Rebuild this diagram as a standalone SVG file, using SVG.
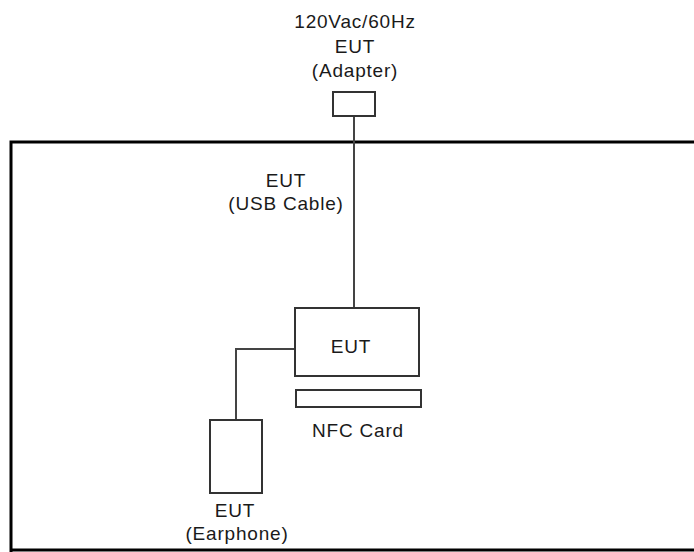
<svg xmlns="http://www.w3.org/2000/svg" width="694" height="552" viewBox="0 0 694 552">
<style>
text{font-family:"Liberation Sans",Arial,sans-serif;font-size:19px;letter-spacing:0.8px;fill:#1a1a1a;text-anchor:middle}
.box{fill:#fff;stroke:#333;stroke-width:2}
.wire{fill:none;stroke:#444;stroke-width:2}
</style>
<rect x="0" y="0" width="694" height="552" fill="#fff"/>
<g id="frame"><path d="M11,700 V142 H720" fill="none" stroke="#000" stroke-width="3"/><path d="M11,550 H720" fill="none" stroke="#000" stroke-width="3"/></g>
<g id="connectors">
<path class="wire" d="M354,116 V308"/>
<path class="wire" d="M295,349 H236 V420"/>
</g>
<g id="adapter">
<rect class="box" x="333" y="92" width="42" height="24"/>
<text x="355" y="28">120Vac/60Hz</text>
<text x="355" y="53">EUT</text>
<text x="355" y="77">(Adapter)</text>
</g>
<g id="usb-label">
<text x="286" y="187">EUT</text>
<text x="286" y="210">(USB Cable)</text>
</g>
<g id="eut">
<rect class="box" x="295" y="308" width="124" height="68"/>
<text x="351" y="353">EUT</text>
</g>
<g id="nfc">
<rect class="box" x="296" y="390" width="125" height="17"/>
<text x="358" y="437">NFC Card</text>
</g>
<g id="earphone">
<rect class="box" x="210" y="420" width="52" height="73"/>
<text x="235" y="517">EUT</text>
<text x="237" y="540">(Earphone)</text>
</g>
</svg>
